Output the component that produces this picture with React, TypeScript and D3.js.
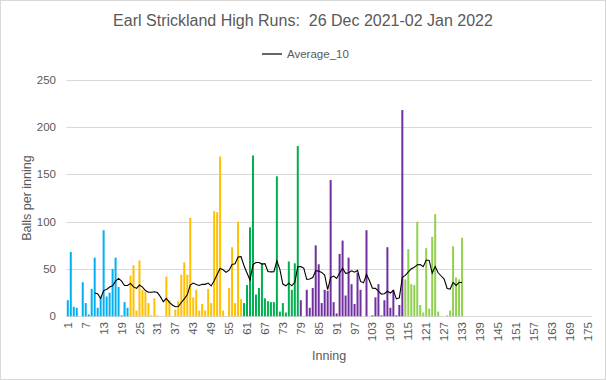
import React from "react";
import * as d3 from "d3";

// Balls per inning, one array per session (colour group)
const session1 = [17, 68, 10, 9, 0, 36, 14, 2, 29, 62, 9, 20, 91, 21, 25, 50, 62, 31, 1, 15, 9];
const session2 = [43, 54, 6, 59, 28, 26, 14, 1, 19, 1, 0, 0, 42, 17, 0, 7, 16, 44, 57, 44, 104, 20, 28, 6, 13, 6, 29, 14, 111, 110, 169, 6, 0, 30, 73, 14, 100, 18];
const session3 = [14, 33, 94, 170, 23, 30, 56, 19, 16, 15, 15, 148, 5, 14, 4, 58, 28, 56, 180];
const session4 = [17, 0, 28, 9, 30, 75, 55, 14, 28, 27, 144, 15, 3, 66, 80, 22, 62, 34, 13, 46, 28, 0, 91, 0, 1, 20, 34, 1, 17, 73, 9, 28, 1, 12, 218];
const session5 = [39, 71, 34, 33, 100, 12, 4, 72, 8, 84, 108, 5, 0, 0, 1, 6, 74, 41, 39, 83];
const sessionColors = ["#00B0F0", "#FFC000", "#00B050", "#7030A0", "#92D050"];

const categoryCount = 176; // innings on the axis
const innings = d3.range(1, categoryCount + 1);
const tickLabels = d3.range(1, categoryCount + 1, 6);
const yTicks = [0, 50, 100, 150, 200, 250];
const titleText = "Earl Strickland High Runs:  26 Dec 2021-02 Jan 2022";
const avgWindow = 10;

const W = 606;
const H = 380;
const plot = { left: 66.3, right: 592, top: 79.8, bottom: 316.3 };
const font = "'Liberation Sans', Arial, sans-serif";
const textColor = "#595959";
const gridColor = "#D9D9D9";

export default function App() {
  const sessions = [session1, session2, session3, session4, session5];
  const bars: { inning: number; value: number; color: string }[] = [];
  let n = 1;
  sessions.forEach((s, i) => {
    s.forEach((v) => {
      bars.push({ inning: n, value: v, color: sessionColors[i] });
      n++;
    });
  });
  const values = bars.map((b) => b.value);
  const avg: { inning: number; value: number }[] = [];
  for (let i = avgWindow - 1; i < values.length; i++) {
    avg.push({ inning: i + 1, value: d3.mean(values.slice(i - avgWindow + 1, i + 1)) as number });
  }

  const x = d3
    .scaleBand<number>()
    .domain(innings)
    .range([plot.left, plot.right])
    .paddingInner(0.33)
    .paddingOuter(0.165);
  const y = d3.scaleLinear().domain([0, 250]).range([plot.bottom, plot.top]);
  const cx = (i: number) => (x(i) as number) + x.bandwidth() / 2;

  const line = d3
    .line<{ inning: number; value: number }>()
    .x((d) => cx(d.inning))
    .y((d) => y(d.value));

  return (
    <svg width={W} height={H} style={{ position: "absolute", left: 0, top: 0 }} fontFamily={font}>
      <rect x={0.5} y={0.5} width={W - 1} height={H - 1} fill="#fff" stroke={gridColor} />
      <text x={303} y={26} textAnchor="middle" fontSize={16} fill={textColor} style={{ whiteSpace: "pre" }}>
        {titleText}
      </text>
      {/* legend */}
      <line x1={262} x2={282} y1={54} y2={54} stroke="#000" strokeWidth={1.2} />
      <text x={287} y={58} fontSize={11.5} fill={textColor}>
        Average_10
      </text>
      {/* gridlines */}
      {yTicks.map((t) => (
        <line key={t} x1={plot.left} x2={plot.right} y1={Math.round(y(t)) + 0.5} y2={Math.round(y(t)) + 0.5} stroke={gridColor} strokeWidth={1} />
      ))}
      {yTicks.map((t) => (
        <text key={"l" + t} x={56} y={y(t)} dy="0.35em" textAnchor="end" fontSize={11.5} fill={textColor}>
          {t}
        </text>
      ))}
      <text transform={`translate(31,${(plot.top + plot.bottom) / 2}) rotate(-90)`} textAnchor="middle" fontSize={12.5} fill={textColor}>
        Balls per inning
      </text>
      {/* bars */}
      {bars.map((b) => (
        <rect key={b.inning} x={x(b.inning)} width={x.bandwidth()} y={y(b.value)} height={y(0) - y(b.value)} fill={b.color} />
      ))}
      <path d={line(avg) || ""} fill="none" stroke="#000" strokeWidth={1.1} />
      {/* x tick labels */}
      {tickLabels.map((t) => (
        <text key={"x" + t} transform={`translate(${cx(t)},322) rotate(-90)`} dy="0.35em" textAnchor="end" fontSize={11.5} fill={textColor}>
          {t}
        </text>
      ))}
      <text x={(plot.left + plot.right) / 2} y={360} textAnchor="middle" fontSize={12.5} fill={textColor}>
        Inning
      </text>
    </svg>
  );
}
